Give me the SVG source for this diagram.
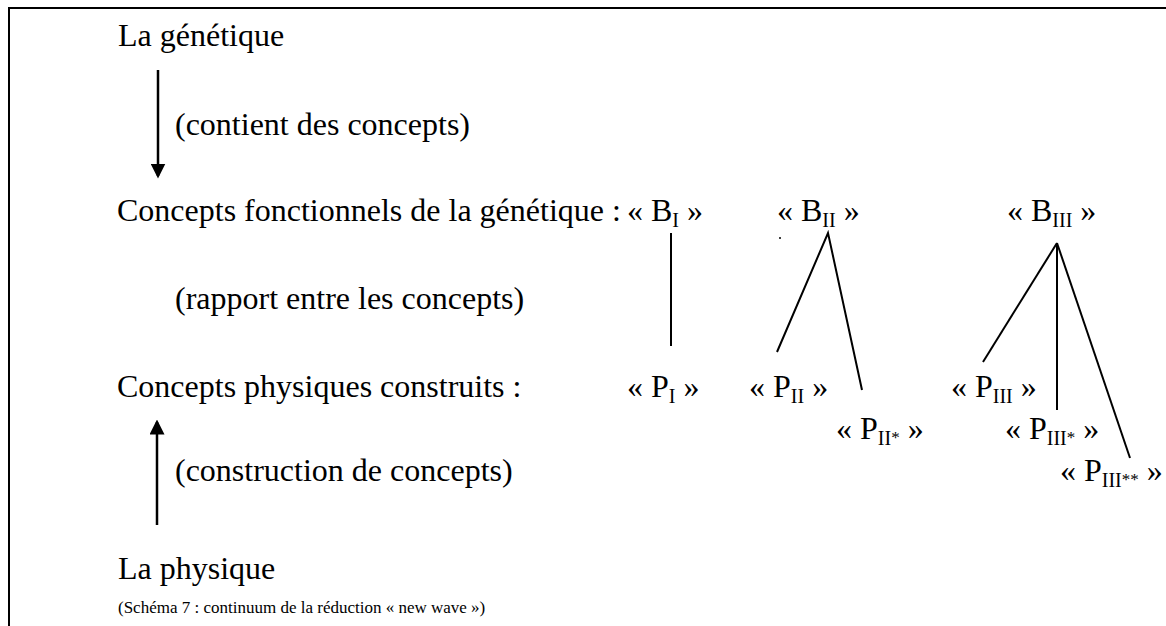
<svg xmlns="http://www.w3.org/2000/svg" width="1166" height="626" viewBox="0 0 1166 626">
<style>
.t{font-family:"Liberation Serif","Times New Roman",serif;font-size:32px;fill:#000}
.s{font-size:20px}
.a{font-size:17px}
.cap{font-family:"Liberation Serif","Times New Roman",serif;font-size:17px;fill:#000}
.ln{stroke:#000;stroke-width:2;fill:none}
.ar{stroke:#000;stroke-width:2.5;fill:none}
</style>
<defs>
<marker id="ah" markerWidth="6" markerHeight="6" refX="5" refY="3" orient="auto" markerUnits="strokeWidth">
<path d="M0,0 L6,3 L0,6 Z" fill="#000"/>
</marker>
</defs>
<rect width="1166" height="626" fill="#fff"/>
<g id="frame">
<line x1="8" y1="8" x2="1166" y2="8" class="ln"/>
<line x1="9" y1="7" x2="9" y2="626" class="ln"/>
</g>
<g id="genetique"><text class="t" x="118" y="46">La génétique</text></g>
<g id="contient"><text class="t" x="175" y="135">(contient des concepts)</text></g>
<g id="concepts-fonctionnels"><text class="t" x="117" y="221">Concepts fonctionnels de la génétique :</text></g>
<g id="rapport"><text class="t" x="175" y="309">(rapport entre les concepts)</text></g>
<g id="concepts-physiques"><text class="t" x="117" y="397">Concepts physiques construits :</text></g>
<g id="construction"><text class="t" x="175" y="481">(construction de concepts)</text></g>
<g id="physique"><text class="t" x="118" y="579">La physique</text></g>
<g id="caption"><text class="cap" x="118" y="613">(Schéma 7 : continuum de la réduction « new wave »)</text></g>

<g id="BI"><text class="t" x="627" y="221">« B<tspan class="s" dy="6">I</tspan><tspan dy="-6"> »</tspan></text></g>
<g id="BII"><text class="t" x="777" y="221">« B<tspan class="s" dy="6">II</tspan><tspan dy="-6"> »</tspan></text></g>
<g id="BIII"><text class="t" x="1007" y="221">« B<tspan class="s" dy="6">III</tspan><tspan dy="-6"> »</tspan></text></g>
<g id="PI"><text class="t" x="627" y="397">« P<tspan class="s" dy="6">I</tspan><tspan dy="-6"> »</tspan></text></g>
<g id="PII"><text class="t" x="749" y="397">« P<tspan class="s" dy="6">II</tspan><tspan dy="-6"> »</tspan></text></g>
<g id="PIIs"><text class="t" x="836" y="439">« P<tspan class="s" dy="6">II<tspan class="a" dy="-2">*</tspan></tspan><tspan dy="-4"> »</tspan></text></g>
<g id="PIII"><text class="t" x="951" y="397">« P<tspan class="s" dy="6">III</tspan><tspan dy="-6"> »</tspan></text></g>
<g id="PIIIs"><text class="t" x="1005" y="439">« P<tspan class="s" dy="6">III<tspan class="a" dy="-2">*</tspan></tspan><tspan dy="-4"> »</tspan></text></g>
<g id="PIIIss"><text class="t" x="1060" y="481">« P<tspan class="s" dy="6">III<tspan class="a" dy="-2">**</tspan></tspan><tspan dy="-4"> »</tspan></text></g>

<g id="connectors">
<line x1="158" y1="70" x2="158" y2="176" class="ar" marker-end="url(#ah)"/>
<line x1="157" y1="525" x2="157" y2="422" class="ar" marker-end="url(#ah)"/>
<line x1="671" y1="233" x2="671" y2="346" class="ln"/>
<polyline points="777,352 828,233 862,390" class="ln"/>
<circle cx="780" cy="238" r="1" fill="#000"/>
<line x1="1057" y1="243" x2="983" y2="362" class="ln"/>
<line x1="1057" y1="243" x2="1057" y2="410" class="ln"/>
<line x1="1057" y1="243" x2="1130" y2="458" class="ln"/>
</g>
</svg>
